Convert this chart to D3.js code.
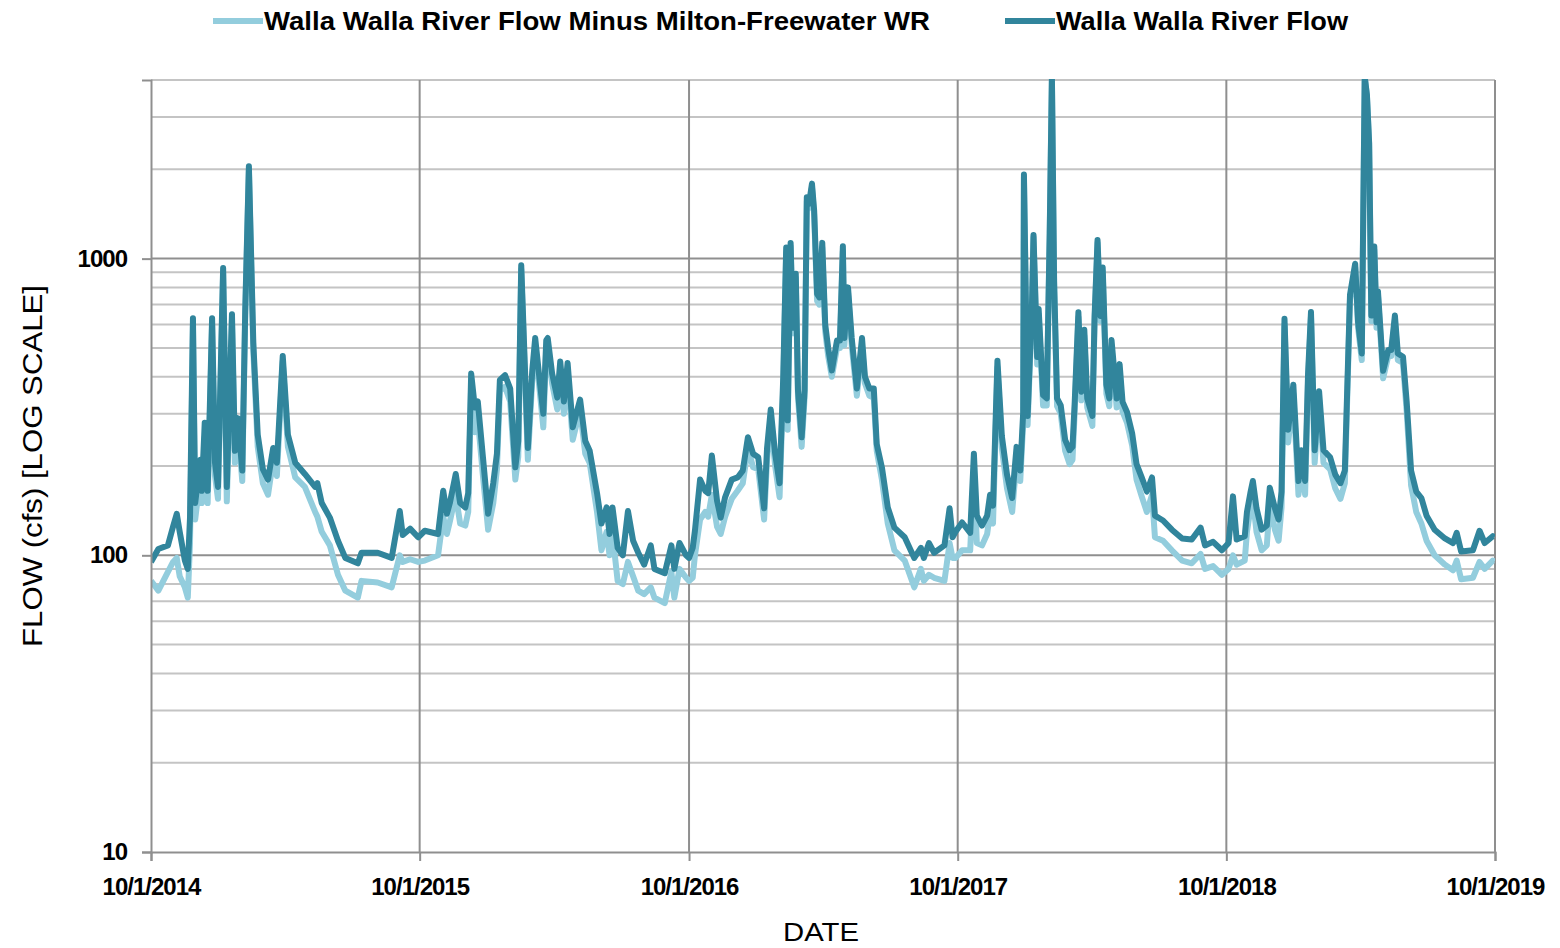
<!DOCTYPE html>
<html lang="en">
<head>
<meta charset="utf-8">
<script src="https://d3js.org/d3.v7.min.js"></script>
<style>
  body { margin: 0; background: #fff; }
  text { font-family: "Liberation Sans", Arial, sans-serif; fill: #000; }
</style>
</head>
<body>
<div id="chart"></div>
<script>
// rows are [date, Walla Walla River Flow, Flow minus Milton-Freewater WR] in cfs
const wy2015 = [
  ["2014-10-01", 95, 82], ["2014-10-11", 105, 76], ["2014-10-24", 108, 88], ["2014-10-31", 125, 95],
  ["2014-11-05", 138, 98], ["2014-11-09", 120, 85], ["2014-11-16", 96, 78], ["2014-11-20", 90, 72],
  ["2014-11-23", 134, 110], ["2014-11-27", 630, 600], ["2014-11-30", 150, 132], ["2014-12-07", 210, 185],
  ["2014-12-09", 165, 150], ["2014-12-13", 280, 250], ["2014-12-17", 165, 150], ["2014-12-23", 630, 600],
  ["2014-12-27", 205, 185], ["2014-12-31", 170, 155], ["2015-01-07", 930, 900], ["2015-01-12", 170, 152],
  ["2015-01-19", 650, 620], ["2015-01-23", 225, 205], ["2015-01-27", 290, 270], ["2015-02-02", 193, 178],
  ["2015-02-06", 665, 640], ["2015-02-11", 2050, 2000], ["2015-02-17", 520, 490], ["2015-02-23", 255, 232],
  ["2015-03-02", 195, 175], ["2015-03-09", 180, 160], ["2015-03-16", 230, 210], ["2015-03-21", 205, 185],
  ["2015-03-29", 470, 450], ["2015-04-05", 255, 232], ["2015-04-15", 205, 183], ["2015-04-28", 188, 170],
  ["2015-05-12", 170, 140], ["2015-05-15", 175, 135], ["2015-05-21", 150, 120], ["2015-06-01", 134, 108],
  ["2015-06-12", 112, 86], ["2015-06-22", 98, 76], ["2015-07-09", 94, 72], ["2015-07-14", 102, 82],
  ["2015-08-05", 102, 81], ["2015-08-24", 98, 78], ["2015-09-04", 141, 100], ["2015-09-08", 117, 95],
  ["2015-09-18", 123, 97], ["2015-09-29", 115, 95]
];
const wy2016 = [
  ["2015-10-08", 121, 96], ["2015-10-26", 118, 100], ["2015-11-02", 165, 135], ["2015-11-07", 138, 118],
  ["2015-11-11", 150, 130], ["2015-11-19", 188, 160], ["2015-11-25", 150, 128], ["2015-12-02", 145, 126],
  ["2015-12-06", 162, 140], ["2015-12-10", 410, 380], ["2015-12-15", 315, 260], ["2015-12-19", 330, 290],
  ["2015-12-26", 214, 185], ["2016-01-02", 138, 122], ["2016-01-09", 175, 150], ["2016-01-14", 220, 195],
  ["2016-01-18", 390, 360], ["2016-01-25", 405, 370], ["2016-02-01", 365, 330], ["2016-02-08", 198, 180],
  ["2016-02-12", 243, 215], ["2016-02-16", 950, 920], ["2016-02-21", 430, 400], ["2016-02-25", 230, 210],
  ["2016-03-02", 420, 390], ["2016-03-06", 540, 510], ["2016-03-12", 390, 360], ["2016-03-17", 300, 270],
  ["2016-03-21", 530, 500], ["2016-03-23", 540, 510], ["2016-03-29", 410, 380], ["2016-04-05", 340, 310],
  ["2016-04-09", 450, 420], ["2016-04-14", 330, 300], ["2016-04-19", 445, 410], ["2016-04-26", 270, 245],
  ["2016-05-06", 335, 310], ["2016-05-13", 243, 220], ["2016-05-19", 225, 205], ["2016-05-29", 162, 140],
  ["2016-06-04", 128, 104], ["2016-06-11", 145, 120], ["2016-06-15", 118, 100], ["2016-06-19", 145, 118],
  ["2016-06-26", 106, 82], ["2016-07-03", 100, 80], ["2016-07-10", 141, 95], ["2016-07-17", 112, 85],
  ["2016-07-24", 102, 76], ["2016-08-01", 93, 74], ["2016-08-10", 108, 78], ["2016-08-15", 90, 72],
  ["2016-08-29", 87, 69], ["2016-09-07", 108, 88], ["2016-09-11", 90, 72], ["2016-09-18", 110, 90],
  ["2016-09-27", 100, 84]
];
const wy2017 = [
  ["2016-10-01", 98, 82], ["2016-10-06", 106, 84], ["2016-10-09", 121, 100], ["2016-10-16", 180, 132],
  ["2016-10-23", 165, 140], ["2016-10-27", 162, 135], ["2016-11-01", 217, 160], ["2016-11-08", 153, 125],
  ["2016-11-13", 134, 118], ["2016-11-19", 157, 135], ["2016-11-28", 180, 155], ["2016-12-06", 183, 165],
  ["2016-12-13", 193, 175], ["2016-12-20", 250, 230], ["2016-12-27", 220, 198], ["2017-01-03", 214, 195],
  ["2017-01-11", 144, 132], ["2017-01-15", 230, 210], ["2017-01-20", 310, 290], ["2017-01-26", 220, 200],
  ["2017-02-01", 175, 157], ["2017-02-06", 400, 370], ["2017-02-10", 1090, 1050], ["2017-02-12", 285, 265],
  ["2017-02-16", 1130, 1100], ["2017-02-19", 585, 560], ["2017-02-23", 890, 860], ["2017-02-26", 360, 340],
  ["2017-03-03", 250, 232], ["2017-03-07", 360, 340], ["2017-03-10", 1610, 1560], ["2017-03-13", 1530, 1480],
  ["2017-03-17", 1790, 1740], ["2017-03-20", 1450, 1400], ["2017-03-24", 760, 720], ["2017-03-27", 740, 700],
  ["2017-03-31", 1130, 1090], ["2017-04-04", 600, 570], ["2017-04-08", 500, 470], ["2017-04-13", 420, 400],
  ["2017-04-20", 530, 500], ["2017-04-24", 530, 500], ["2017-04-28", 1100, 1060], ["2017-04-30", 540, 510],
  ["2017-05-05", 800, 770], ["2017-05-10", 540, 510], ["2017-05-17", 365, 345], ["2017-05-24", 540, 510],
  ["2017-05-28", 400, 380], ["2017-06-03", 365, 345], ["2017-06-09", 365, 340], ["2017-06-13", 237, 225],
  ["2017-06-20", 198, 180], ["2017-06-28", 145, 128], ["2017-07-07", 124, 104], ["2017-07-21", 115, 96],
  ["2017-08-03", 98, 78], ["2017-08-12", 106, 90], ["2017-08-16", 98, 82], ["2017-08-23", 110, 86],
  ["2017-08-30", 102, 84], ["2017-09-13", 108, 82], ["2017-09-20", 144, 110], ["2017-09-24", 115, 98],
  ["2017-09-28", 120, 98]
];
const wy2018 = [
  ["2017-10-07", 129, 104], ["2017-10-18", 119, 104], ["2017-10-23", 220, 195], ["2017-10-27", 136, 110],
  ["2017-11-03", 126, 108], ["2017-11-10", 136, 118], ["2017-11-14", 160, 140], ["2017-11-18", 147, 128],
  ["2017-11-24", 453, 430], ["2017-11-30", 252, 230], ["2017-12-07", 187, 168], ["2017-12-14", 156, 140],
  ["2017-12-20", 232, 210], ["2017-12-25", 193, 178], ["2017-12-29", 304, 280], ["2017-12-30", 1920, 1880],
  ["2018-01-04", 295, 275], ["2018-01-10", 714, 690], ["2018-01-12", 1202, 1180], ["2018-01-17", 466, 440],
  ["2018-01-19", 677, 650], ["2018-01-25", 347, 320], ["2018-01-30", 338, 320], ["2018-01-31", 466, 440],
  ["2018-02-03", 1219, 1190], ["2018-02-06", 4100, 4100], ["2018-02-09", 838, 810], ["2018-02-13", 338, 318],
  ["2018-02-18", 320, 300], ["2018-02-24", 245, 225], ["2018-03-02", 226, 203], ["2018-03-06", 232, 210],
  ["2018-03-09", 329, 305], ["2018-03-14", 659, 635], ["2018-03-18", 356, 333], ["2018-03-22", 576, 550],
  ["2018-03-26", 338, 315], ["2018-04-02", 295, 273], ["2018-04-05", 641, 615], ["2018-04-09", 1155, 1130],
  ["2018-04-13", 641, 615], ["2018-04-16", 933, 905], ["2018-04-21", 376, 350], ["2018-04-25", 338, 318],
  ["2018-04-28", 532, 505], ["2018-05-05", 338, 315], ["2018-05-09", 441, 415], ["2018-05-13", 329, 305],
  ["2018-05-19", 304, 280], ["2018-05-26", 258, 235], ["2018-06-01", 203, 180], ["2018-06-08", 183, 158],
  ["2018-06-15", 164, 140], ["2018-06-22", 183, 160], ["2018-06-26", 136, 115], ["2018-07-07", 131, 112],
  ["2018-07-19", 122, 104], ["2018-08-02", 114, 96], ["2018-08-15", 113, 94], ["2018-08-27", 124, 101],
  ["2018-09-02", 108, 90], ["2018-09-13", 111, 92], ["2018-09-25", 104, 86]
];
const wy2019 = [
  ["2018-10-04", 110, 90], ["2018-10-10", 158, 100], ["2018-10-15", 113, 93], ["2018-10-26", 116, 96],
  ["2018-10-29", 140, 120], ["2018-11-03", 164, 145], ["2018-11-06", 178, 155], ["2018-11-11", 144, 120],
  ["2018-11-18", 122, 104], ["2018-11-25", 126, 108], ["2018-11-29", 169, 150], ["2018-12-06", 144, 122],
  ["2018-12-11", 132, 112], ["2018-12-15", 164, 145], ["2018-12-19", 627, 600], ["2018-12-24", 265, 240],
  ["2018-12-31", 376, 350], ["2019-01-07", 178, 160], ["2019-01-11", 226, 205], ["2019-01-16", 178, 160],
  ["2019-01-20", 408, 385], ["2019-01-24", 661, 640], ["2019-01-29", 226, 205], ["2019-02-04", 357, 335],
  ["2019-02-10", 226, 205], ["2019-02-19", 214, 195], ["2019-02-26", 187, 168], ["2019-03-05", 175, 155],
  ["2019-03-11", 193, 175], ["2019-03-18", 755, 730], ["2019-03-25", 961, 935], ["2019-03-29", 610, 585],
  ["2019-04-03", 479, 455], ["2019-04-07", 4100, 4100], ["2019-04-10", 3565, 3540], ["2019-04-13", 2455, 2430],
  ["2019-04-16", 643, 615], ["2019-04-20", 1098, 1070], ["2019-04-23", 610, 585], ["2019-04-25", 775, 750],
  ["2019-05-02", 419, 395], ["2019-05-09", 492, 470], ["2019-05-13", 492, 470], ["2019-05-18", 643, 620],
  ["2019-05-22", 479, 455], ["2019-05-29", 467, 445], ["2019-06-03", 329, 305], ["2019-06-09", 193, 172],
  ["2019-06-16", 164, 140], ["2019-06-23", 156, 128], ["2019-06-30", 136, 112], ["2019-07-11", 122, 100],
  ["2019-07-25", 114, 93], ["2019-08-05", 110, 89], ["2019-08-10", 119, 96], ["2019-08-16", 103, 83],
  ["2019-09-01", 104, 84], ["2019-09-10", 121, 95], ["2019-09-17", 110, 90], ["2019-09-28", 116, 96],
  ["2019-09-30", 115, 95]
];

const seriesNames = ["Walla Walla River Flow Minus Milton-Freewater WR", "Walla Walla River Flow"];
const yTickValues = [10, 100, 1000];
const xTickDates = ["2014-10-01", "2015-10-01", "2016-10-01", "2017-10-01", "2018-10-01", "2019-10-01"];
const yTitle = "FLOW (cfs) [LOG SCALE]";
const xTitle = "DATE";

const lightBlue = "#93cddd", darkTeal = "#31859c";
const W = 1560, H = 948;
const m = { left: 151, right: 1495, top: 80, bottom: 852 };

const parse = d3.timeParse("%Y-%m-%d");
const rows = [...wy2015, ...wy2016, ...wy2017, ...wy2018, ...wy2019]
  .map(r => ({ date: parse(r[0]), flow: r[1], net: r[2] }));
const ticks = xTickDates.map(parse);

const x = d3.scaleTime().domain([ticks[0], ticks[ticks.length - 1]]).range([m.left, m.right]);
const y = d3.scaleLog().domain([10, 4000]).range([m.bottom, m.top]);

const svg = d3.select("#chart").append("svg")
  .attr("width", W).attr("height", H);

svg.append("defs").append("clipPath").attr("id", "plot")
  .append("rect").attr("x", m.left).attr("y", m.top - 1)
  .attr("width", m.right - m.left).attr("height", m.bottom - m.top + 1);

// horizontal grid at every log tick
const isMajor = v => Math.abs(Math.log10(v) - Math.round(Math.log10(v))) < 1e-9;
svg.append("g").selectAll("line")
  .data(y.ticks().filter(v => v > 10))
  .join("line")
  .attr("x1", m.left).attr("x2", m.right)
  .attr("y1", d => y(d)).attr("y2", d => y(d))
  .attr("stroke", d => isMajor(d) ? "#8f8f8f" : "#c4c4c4")
  .attr("stroke-width", 2);

// vertical grid at each year
svg.append("g").selectAll("line")
  .data(ticks.slice(1))
  .join("line")
  .attr("x1", d => x(d)).attr("x2", d => x(d))
  .attr("y1", m.top).attr("y2", m.bottom)
  .attr("stroke", "#8f8f8f").attr("stroke-width", 2);

const lineNet = d3.line().x(d => x(d.date)).y(d => y(d.net));
const lineFlow = d3.line().x(d => x(d.date)).y(d => y(d.flow));

const plot = svg.append("g").attr("clip-path", "url(#plot)");
plot.append("path").datum(rows)
  .attr("fill", "none").attr("stroke", lightBlue).attr("stroke-width", 6)
  .attr("stroke-linejoin", "round").attr("d", lineNet);
plot.append("path").datum(rows)
  .attr("fill", "none").attr("stroke", darkTeal).attr("stroke-width", 6)
  .attr("stroke-linejoin", "round").attr("d", lineFlow);

// axes
const yAxis = svg.append("g").attr("transform", `translate(${m.left},0)`)
  .call(d3.axisLeft(y).tickValues(yTickValues).tickFormat(d3.format("d")).tickSize(9).tickPadding(15));
const xAxis = svg.append("g").attr("transform", `translate(0,${m.bottom})`)
  .call(d3.axisBottom(x).tickValues(ticks).tickFormat(d3.timeFormat("%-m/%-d/%Y")).tickSize(9).tickPadding(17));
[yAxis, xAxis].forEach(g => {
  g.select(".domain").attr("stroke", "#8f8f8f").attr("stroke-width", 2);
  g.selectAll(".tick line").attr("stroke", "#8f8f8f").attr("stroke-width", 2);
  g.selectAll(".tick text").attr("fill", "#000")
    .style("font-family", '"Liberation Sans", Arial, sans-serif')
    .style("font-size", "24px").style("font-weight", "bold").style("letter-spacing", "-1px");
});

// axis titles
svg.append("text")
  .attr("transform", `translate(42,${(m.top + m.bottom) / 2}) rotate(-90)`)
  .attr("text-anchor", "middle")
  .attr("textLength", 362).attr("lengthAdjust", "spacingAndGlyphs")
  .style("font-size", "27px")
  .text(yTitle);
svg.append("text")
  .attr("x", 821).attr("y", 941)
  .attr("text-anchor", "middle")
  .attr("textLength", 76).attr("lengthAdjust", "spacingAndGlyphs")
  .style("font-size", "26px")
  .text(xTitle);

// legend
const legend = [
  { name: seriesNames[0], color: lightBlue, x0: 213, len: 666 },
  { name: seriesNames[1], color: darkTeal, x0: 1005, len: 292 }
];
const lg = svg.append("g").selectAll("g").data(legend).join("g")
  .attr("transform", d => `translate(${d.x0},21)`);
lg.append("line").attr("x1", 0).attr("x2", 50)
  .attr("stroke", d => d.color).attr("stroke-width", 6);
lg.append("text").attr("x", 51).attr("y", 9)
  .attr("textLength", d => d.len).attr("lengthAdjust", "spacingAndGlyphs")
  .style("font-size", "26px").style("font-weight", "bold")
  .text(d => d.name);
</script>
</body>
</html>
